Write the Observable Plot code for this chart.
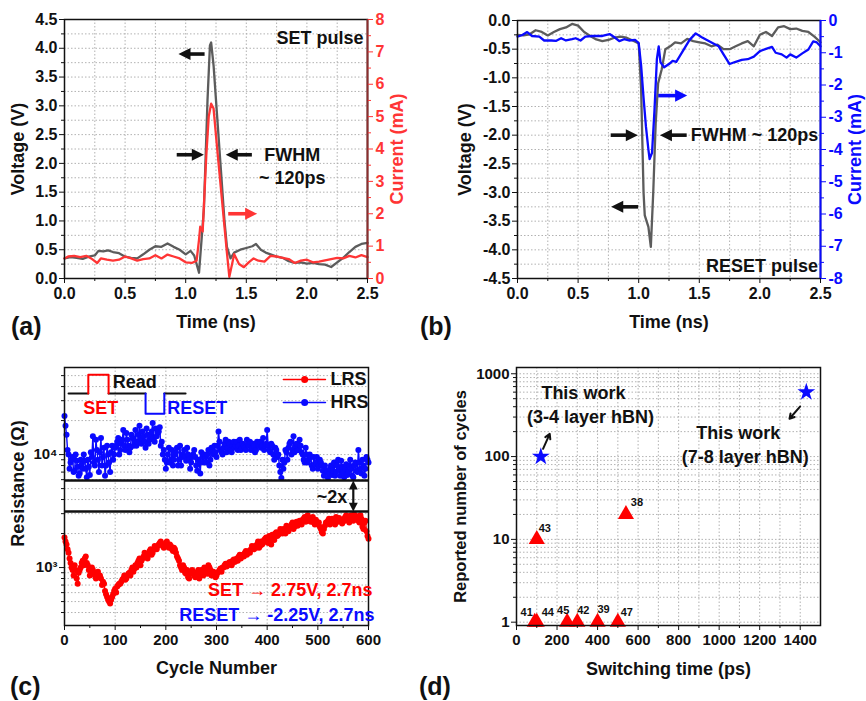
<!DOCTYPE html>
<html><head><meta charset="utf-8">
<script src="https://cdn.jsdelivr.net/npm/d3@7"></script>
<script src="https://cdn.jsdelivr.net/npm/@observablehq/plot@0.6"></script>
<style>
body{margin:0;background:#fff;}
#fig{position:relative;width:866px;height:701px;overflow:hidden;background:#fff;font-family:Arial,'Liberation Sans',Helvetica,sans-serif;}
#fig svg{position:absolute;overflow:visible;}
.lab{position:absolute;font-weight:bold;font-size:25px;line-height:25px;color:#111;}
</style></head><body><div id="fig"></div>
<script>
// ---------------- DATA ----------------
// (a) SET pulse: [time ns, voltage V] and [time ns, current mA]
const setVoltage = [[0,0.35],[0.05,0.37],[0.1,0.36],[0.15,0.34],[0.2,0.38],[0.25,0.40],[0.28,0.48],[0.32,0.47],[0.36,0.49],[0.4,0.46],[0.45,0.44],[0.5,0.38],[0.55,0.36],[0.6,0.35],[0.65,0.42],[0.7,0.50],[0.75,0.56],[0.8,0.55],[0.85,0.61],[0.9,0.55],[0.95,0.50],[1.0,0.42],[1.04,0.48],[1.07,0.40],[1.11,0.10],[1.15,1.20],[1.18,3.10],[1.2,4.05],[1.21,4.10],[1.23,3.70],[1.26,2.80],[1.29,1.90],[1.32,1.00],[1.34,0.55],[1.37,0.35],[1.4,0.45],[1.45,0.50],[1.5,0.53],[1.55,0.56],[1.58,0.60],[1.62,0.50],[1.66,0.45],[1.7,0.42],[1.75,0.38],[1.8,0.36],[1.85,0.30],[1.9,0.27],[1.95,0.28],[2.0,0.26],[2.05,0.27],[2.1,0.25],[2.15,0.24],[2.2,0.20],[2.25,0.28],[2.3,0.36],[2.35,0.46],[2.4,0.55],[2.45,0.60],[2.5,0.62]];
const setCurrent = [[0,0.62],[0.03,0.68],[0.08,0.70],[0.13,0.66],[0.18,0.70],[0.22,0.62],[0.27,0.48],[0.30,0.62],[0.35,0.58],[0.40,0.55],[0.45,0.58],[0.50,0.68],[0.55,0.62],[0.60,0.55],[0.65,0.60],[0.70,0.62],[0.75,0.72],[0.80,0.62],[0.85,0.74],[0.90,0.68],[0.95,0.62],[1.00,0.50],[1.05,0.48],[1.09,0.55],[1.11,1.20],[1.12,1.60],[1.14,1.45],[1.17,3.80],[1.19,5.00],[1.21,5.40],[1.23,5.25],[1.26,4.00],[1.29,2.80],[1.32,1.60],[1.34,0.80],[1.36,0.05],[1.40,0.75],[1.44,0.45],[1.48,0.35],[1.52,0.50],[1.56,0.62],[1.60,0.55],[1.65,0.52],[1.70,0.70],[1.75,0.68],[1.80,0.64],[1.85,0.60],[1.90,0.48],[1.95,0.55],[2.00,0.58],[2.05,0.50],[2.10,0.52],[2.15,0.56],[2.20,0.60],[2.25,0.64],[2.30,0.62],[2.35,0.70],[2.40,0.65],[2.45,0.72],[2.50,0.66]];
// (b) RESET pulse
const resetVoltage = [[0,-0.25],[0.05,-0.26],[0.1,-0.24],[0.15,-0.17],[0.2,-0.20],[0.25,-0.26],[0.3,-0.20],[0.35,-0.15],[0.4,-0.12],[0.45,-0.06],[0.5,-0.09],[0.55,-0.20],[0.6,-0.27],[0.65,-0.33],[0.7,-0.36],[0.75,-0.34],[0.8,-0.30],[0.85,-0.28],[0.9,-0.30],[0.95,-0.35],[1.0,-0.40],[1.02,-1.20],[1.04,-3.00],[1.05,-3.40],[1.08,-3.60],[1.10,-3.95],[1.12,-3.00],[1.14,-1.80],[1.16,-1.10],[1.19,-0.85],[1.22,-0.50],[1.26,-0.45],[1.3,-0.38],[1.35,-0.40],[1.4,-0.32],[1.45,-0.36],[1.5,-0.38],[1.55,-0.40],[1.6,-0.45],[1.65,-0.42],[1.7,-0.50],[1.75,-0.50],[1.8,-0.45],[1.85,-0.40],[1.9,-0.36],[1.95,-0.45],[2.0,-0.25],[2.05,-0.20],[2.1,-0.27],[2.15,-0.12],[2.2,-0.10],[2.25,-0.15],[2.3,-0.14],[2.35,-0.18],[2.4,-0.20],[2.45,-0.28],[2.5,-0.38]];
const resetCurrent = [[0,-0.50],[0.04,-0.45],[0.08,-0.36],[0.12,-0.48],[0.18,-0.50],[0.22,-0.62],[0.28,-0.62],[0.32,-0.63],[0.36,-0.55],[0.40,-0.62],[0.45,-0.58],[0.48,-0.55],[0.52,-0.62],[0.56,-0.50],[0.62,-0.48],[0.70,-0.48],[0.76,-0.42],[0.80,-0.52],[0.84,-0.64],[0.88,-0.58],[0.92,-0.62],[0.97,-0.60],[1.00,-0.70],[1.02,-1.40],[1.04,-2.40],[1.06,-3.30],[1.08,-4.00],[1.09,-4.30],[1.11,-4.10],[1.13,-2.80],[1.15,-1.20],[1.165,-0.80],[1.18,-1.30],[1.21,-1.45],[1.25,-1.35],[1.28,-1.25],[1.31,-1.28],[1.34,-1.10],[1.38,-0.85],[1.42,-0.60],[1.47,-0.40],[1.52,-0.52],[1.57,-0.62],[1.62,-0.72],[1.66,-0.80],[1.70,-1.05],[1.75,-1.35],[1.80,-1.28],[1.85,-1.22],[1.90,-1.20],[1.95,-1.12],[2.00,-0.95],[2.05,-0.88],[2.10,-0.82],[2.13,-1.00],[2.18,-1.05],[2.22,-1.15],[2.25,-1.05],[2.30,-1.15],[2.35,-1.02],[2.40,-0.90],[2.44,-0.65],[2.47,-0.68],[2.50,-0.80]];
// (c) resistance (kOhm): first arrays at cycles 0,4,8,...,600; second arrays at cycles 2,6,...,598
const hrsK = [22,15,10,8.5,9.5,7.2,8.8,6.5,9,7.5,8.8,
 6.3,7.8,10.5,14.5,8,11,7,14,9.5,6.5,12,8.5,
 10.5,9,11.5,13,10,12.5,16.5,11,13.5,10.5,15,12,16.5,13,18,12.5,14.5,11.5,15,13.5,16,14,17,15.5,17.5,13,11,
 7.5,10,8.5,11,9,10.5,8,12,9.5,11,8.8,10,7.5,9.5,11,8,9,6.8,9.5,10,8.5,11,9,10.5,
 12,9.5,16,11,10,12.5,10.5,13,11,12,11.5,13,12,11,12.5,11.5,13.5,12,11,12.5,10.5,13,12,11.5,14,12,16.5,11,12.5,10,11.5,9.5,
 8,6.2,7.5,11,9,12.5,10,14.5,12,11,13.5,10.5,9,11.5,8.5,10,8,9.5,8.5,7.5,9,8,6.5,7.2,
 6.2,7.5,6.6,8.5,7,9,6.5,7.8,6.3,8.2,7,9,6.5,8,7.2,11,7.5,9,6.5,9.5,8.5];
const hrsK2 = [18,11,7.5,9,7,10,7.8,6.8,8.2,10,
 7.5,9,6.6,9.5,8.5,13.5,9,10.5,8,11.5,8,10,
 7,12,10,12,14,11,13.5,12,15.5,12,11.5,14,13,12,15,14,16,13,17,12.5,14.5,19,13,14.5,16,12,10,
 9,8.5,11.5,9,8,10,11.5,9,8,10,9.5,11.5,9,8.5,10,9.5,7.2,8.5,10.5,8.5,9.5,10,8,11.5,
 10,10.5,12,13,10.5,11.5,13.5,11.5,12.5,10.5,13,12,11,13.5,11.5,12,11,12.5,13,11.5,12,11,12.5,13,12,11,12.5,12,10.5,12,9,11,
 10,7,9,8.5,10.5,11.5,13,11,10.5,12.5,11,12,10,8.5,10,9,9.5,7.5,8.2,9.5,8,8.5,7.2,8,
 7,6.8,8,7.2,6.5,8,7.5,8.8,7,7.5,6.6,8,7.5,6.3,8.5,7,8.5,6.8,8,7.5,9];
const lrsK = [1.85,1.6,1.35,1.1,0.95,1.05,0.8,0.9,1.0,1.15,1.2,
 1.1,0.95,0.9,0.95,0.85,0.9,0.82,0.8,0.75,0.62,0.55,0.5,
 0.52,0.58,0.65,0.68,0.72,0.75,0.8,0.78,0.85,0.9,0.95,0.92,1.05,1.1,1.2,1.15,1.25,1.3,1.2,1.4,1.3,1.45,1.5,1.55,1.65,1.6,1.5,
 1.65,1.55,1.6,1.45,1.5,1.35,1.2,1.05,0.95,1.0,0.88,0.82,0.9,0.95,0.85,0.9,0.95,0.88,0.92,1.0,0.9,1.05,0.95,0.9,
 0.88,0.85,0.92,0.98,1.0,1.05,1.02,1.1,1.08,1.15,1.12,1.2,1.25,1.2,1.3,1.35,1.3,1.4,1.45,1.5,1.55,1.6,1.5,1.7,1.65,1.8,1.75,1.9,1.6,1.85,2.0,1.9,
 2.05,2.1,2.2,2.0,2.3,2.25,2.4,2.2,2.45,2.35,2.6,2.4,2.7,2.55,2.9,2.6,2.75,2.5,2.65,2.4,2.3,2.05,2.2,2.5,
 2.6,2.4,2.7,2.5,2.8,2.55,2.65,2.45,2.7,2.9,2.6,2.85,2.7,2.95,2.75,2.6,2.9,2.3,2.5,2.1,1.8];
const lrsK2 = [1.7,1.45,1.2,1.0,0.85,0.95,0.72,0.95,1.1,1.05,
 1.25,1.05,0.85,1.0,0.9,0.8,0.92,0.85,0.7,0.72,0.58,0.52,
 0.48,0.55,0.62,0.6,0.7,0.72,0.78,0.85,0.8,0.88,0.85,1.0,0.98,1.0,1.15,1.05,1.2,1.35,1.25,1.3,1.45,1.35,1.55,1.45,1.6,1.7,1.55,
 1.6,1.7,1.5,1.55,1.4,1.45,1.25,1.15,1.0,1.05,0.9,0.95,0.8,0.88,0.92,0.82,0.88,0.8,0.95,0.85,0.95,0.88,1.0,0.85,
 0.92,0.82,0.9,0.95,0.92,1.0,1.08,1.05,1.12,1.05,1.18,1.15,1.15,1.3,1.25,1.25,1.4,1.35,1.35,1.55,1.45,1.5,1.7,1.55,1.6,1.75,1.85,1.65,1.8,1.95,1.75,2.05,
 1.95,2.2,2.0,2.15,2.35,2.1,2.3,2.5,2.3,2.55,2.45,2.5,2.65,2.8,2.6,2.75,2.55,2.8,2.4,2.55,2.5,2.2,2.0,2.35,
 2.45,2.7,2.5,2.6,2.4,2.65,2.75,2.6,2.55,2.8,2.75,2.5,2.9,2.6,2.8,2.85,2.5,2.7,2.2,2.6,1.9];
// (d) switching time vs reported cycles
const refTime = [90,100,250,300,400,500,100,540];
const refCycles = [1,1,1,1,1,1,10,20];
const refLabels = ["41","44","45","42","39","47","43","38"];
const workTime = [120,1430];
const workCycles = [100,600];

// ---------------- STYLE ----------------
const FONT = "Arial, 'Liberation Sans', Helvetica, sans-serif";
const fig = document.getElementById("fig");
const grid = {stroke:"#a9a9a9", strokeOpacity:1, strokeWidth:0.9, strokeDasharray:"1.5,2"};
const base = {fontFamily:FONT, fontWeight:"bold", fontSize:"16px", background:"transparent", overflow:"visible", color:"#111"};
const GRAY = "#5c5c5c", RED = "#ff3535", BLUE = "#0a0aff", PRED = "#ff0000";
function tri(dir){ // filled arrow head, tip at origin
  return {draw(c, s){ const k = Math.sqrt(s); const w = k*0.5;
    if(dir==="r"){c.moveTo(0,0);c.lineTo(-k,-w);c.lineTo(-k,w);}
    if(dir==="l"){c.moveTo(0,0);c.lineTo(k,-w);c.lineTo(k,w);}
    if(dir==="u"){c.moveTo(0,0);c.lineTo(-w,k);c.lineTo(w,k);}
    if(dir==="d"){c.moveTo(0,0);c.lineTo(-w,-k);c.lineTo(w,-k);}
    c.closePath(); }};
}
function hArrow(tail, tip, y, color, short){
  const end = tip - Math.sign(tip - tail)*short;
  return [
    Plot.ruleY([{y, x1:tail, x2:end}], {y:"y", x1:"x1", x2:"x2", stroke:color, strokeWidth:3.6}),
    Plot.dot([{x:tip, y}], {x:"x", y:"y", symbol: tip > tail ? tri("r") : tri("l"), r:6.8, fill:color, stroke:"none"})
  ];
}
function note(x, y, t, opts={}){
  return Plot.text([{x, y, t}], {x:"x", y:"y", text:"t", fontSize:18, fontWeight:"bold", fill:"#111", ...opts});
}
function ftext(t, anchor, opts={}){
  return Plot.text([t], {frameAnchor:anchor, text:d=>d, fontSize:18, fontWeight:"bold", fill:"#111", textAnchor:"middle", lineAnchor:"middle", ...opts});
}
function place(svg, left, top){ svg.style.left = left+"px"; svg.style.top = top+"px"; fig.appendChild(svg); }
function letter(t, left, top){ const d=document.createElement("div"); d.className="lab"; d.textContent=t; d.style.left=left+"px"; d.style.top=top+"px"; fig.appendChild(d); }

const timeTicks = [0,0.5,1,1.5,2,2.5];
const timeMinor = [0.25,0.75,1.25,1.75,2.25];
const timeGrid = [0.25,0.5,0.75,1,1.25,1.5,1.75,2,2.25];
const mAticks = [0,1,2,3,4,5,6,7,8];
const mAminor = [0.5,1.5,2.5,3.5,4.5,5.5,6.5,7.5];

// ---------------- (a) ----------------
const kA = 4.5/8;
const vA = [0,0.5,1,1.5,2,2.5,3,3.5,4,4.5];
const vAminor = [0.25,0.75,1.25,1.75,2.25,2.75,3.25,3.75,4.25];
const A = Plot.plot({
  width:433, height:340, marginLeft:64, marginRight:66, marginTop:19, marginBottom:62,
  style: base,
  x:{domain:[0,2.5], label:null}, y:{domain:[0,4.5], label:null},
  marks:[
    Plot.gridX(timeGrid, grid),
    Plot.gridY(vAminor.concat(vA.slice(1,-1)), grid),
    Plot.line(setVoltage, {x:d=>d[0], y:d=>d[1], stroke:GRAY, strokeWidth:2.3, strokeLinejoin:"round"}),
    Plot.line(setCurrent, {x:d=>d[0], y:d=>d[1]*kA, stroke:RED, strokeWidth:2.3, strokeLinejoin:"round"}),
    Plot.frame({stroke:"#111", strokeWidth:1.5}),
    Plot.ruleX([2.5], {stroke:"#8b2e2e", strokeWidth:2}),
    Plot.axisX(timeTicks, {tickSize:5, tickPadding:4, tickFormat:d=>d.toFixed(1), fontSize:16, label:null}),
    Plot.axisX(timeMinor, {tickSize:3, tickFormat:()=>"", label:null}),
    Plot.axisY(vA, {tickSize:5, tickPadding:2, tickFormat:d=>d.toFixed(1), fontSize:16, label:null}),
    Plot.axisY(vAminor, {tickSize:3, tickFormat:()=>"", label:null}),
    Plot.axisY(mAticks.map(c=>c*kA), {anchor:"right", tickSize:5, tickPadding:3, tickFormat:v=>String(Math.round(v/kA)), color:RED, fontSize:16, label:null}),
    Plot.axisY(mAminor.map(c=>c*kA), {anchor:"right", tickSize:3, tickFormat:()=>"", color:RED, label:null}),
    ftext("Voltage (V)", "left", {rotate:-90, dx:-46}),
    ftext("Current (mA)", "right", {rotate:-90, dx:30, fill:RED}),
    ftext("Time (ns)", "bottom", {dy:44}),
    ...hArrow(1.16, 0.94, 3.90, "#111", 0.06),
    ...hArrow(0.93, 1.15, 2.15, "#111", 0.06),
    ...hArrow(1.55, 1.33, 2.15, "#111", 0.06),
    ...hArrow(1.355, 1.59, 2.0*kA, RED, 0.06),
    note(2.467, 4.18, "SET pulse", {textAnchor:"end"}),
    note(1.88, 2.14, "FWHM"),
    note(1.88, 1.74, "~ 120ps")
  ]
});
place(A, 0, 0);

// ---------------- (b) ----------------
const vB = [0,-0.5,-1,-1.5,-2,-2.5,-3,-3.5,-4,-4.5];
const vBminor = [-0.25,-0.75,-1.25,-1.75,-2.25,-2.75,-3.25,-3.75,-4.25];
const B = Plot.plot({
  width:433, height:340, marginLeft:84, marginRight:46, marginTop:20, marginBottom:62,
  style: base,
  x:{domain:[0,2.5], label:null}, y:{domain:[-4.5,0], label:null},
  marks:[
    Plot.gridX(timeGrid, grid),
    Plot.gridY(vBminor.concat(vB.slice(1,-1)), grid),
    Plot.line(resetVoltage, {x:d=>d[0], y:d=>d[1], stroke:GRAY, strokeWidth:2.3, strokeLinejoin:"round"}),
    Plot.line(resetCurrent, {x:d=>d[0], y:d=>d[1]*kA, stroke:BLUE, strokeWidth:2.3, strokeLinejoin:"round"}),
    Plot.frame({stroke:"#111", strokeWidth:1.5}),
    Plot.ruleX([2.5], {stroke:BLUE, strokeWidth:2}),
    Plot.axisX(timeTicks, {tickSize:5, tickPadding:4, tickFormat:d=>d.toFixed(1), fontSize:16, label:null}),
    Plot.axisX(timeMinor, {tickSize:3, tickFormat:()=>"", label:null}),
    Plot.axisY(vB, {tickSize:5, tickPadding:2, tickFormat:d=>d.toFixed(1), fontSize:16, label:null}),
    Plot.axisY(vBminor, {tickSize:3, tickFormat:()=>"", label:null}),
    Plot.axisY(mAticks.map(c=>-c*kA), {anchor:"right", tickSize:5, tickPadding:3, tickFormat:v=>String(Math.round(v/kA)), color:BLUE, fontSize:16, label:null}),
    Plot.axisY(mAminor.map(c=>-c*kA), {anchor:"right", tickSize:3, tickFormat:()=>"", color:BLUE, label:null}),
    ftext("Voltage (V)", "left", {rotate:-90, dx:-52}),
    ftext("Current (mA)", "right", {rotate:-90, dx:35, fill:BLUE}),
    ftext("Time (ns)", "bottom", {dy:44}),
    ...hArrow(1.165, 1.40, -1.31, BLUE, 0.06),
    ...hArrow(0.773, 0.993, -2.0, "#111", 0.06),
    ...hArrow(1.40, 1.175, -2.0, "#111", 0.06),
    ...hArrow(1.00, 0.773, -3.25, "#111", 0.06),
    note(1.43, -2.0, "FWHM ~ 120ps", {textAnchor:"start"}),
    note(2.48, -4.28, "RESET pulse", {textAnchor:"end"})
  ]
});
place(B, 433, 0);

// ---------------- (c) ----------------
const toPts = (a, off) => a.map((v,i)=>({c:i*4+off, r:v*1000}));
const hrs = toPts(hrsK,0).concat(toPts(hrsK2,2)).sort((p,q)=>p.c-q.c);
const lrs = toPts(lrsK,0).concat(toPts(lrsK2,2)).sort((p,q)=>p.c-q.c);
const cMajor = [1000,10000];
const cMinor = [400,500,600,700,800,900,2000,3000,4000,5000,6000,7000,8000,9000,20000,30000,40000,50000];
const breakLow = 3130, breakHigh = 5890;
const schemBase = 34700, schemHigh = 51000, schemLow = 23000;
const schemBlack = [[[8,schemBase],[47,schemBase]],[[87,schemBase],[160,schemBase]],[[197,schemBase],[239,schemBase]]];
const schemSet = [[47,schemBase],[47,schemHigh],[87,schemHigh],[87,schemBase]];
const schemReset = [[160,schemBase],[160,schemLow],[197,schemLow],[197,schemBase]];
const C = Plot.plot({
  width:433, height:361, marginLeft:64, marginRight:65, marginTop:27, marginBottom:76,
  style: base,
  x:{domain:[0,600], label:null}, y:{type:"log", domain:[307,59000], label:null},
  marks:[
    Plot.gridX([100,200,300,400,500], grid),
    Plot.gridY(cMinor.concat(cMajor), grid),
    Plot.line(hrs, {x:"c", y:"r", stroke:BLUE, strokeWidth:1.4}),
    Plot.dot(hrs, {x:"c", y:"r", r:3, fill:BLUE, stroke:"none"}),
    Plot.line(lrs, {x:"c", y:"r", stroke:PRED, strokeWidth:1.4}),
    Plot.dot(lrs, {x:"c", y:"r", r:3, fill:PRED, stroke:"none"}),
    Plot.ruleY([breakLow, breakHigh], {stroke:"#111", strokeWidth:2.5}),
    Plot.frame({stroke:"#111", strokeWidth:1.5}),
    Plot.axisX([0,100,200,300,400,500,600], {tickSize:5, tickPadding:4, fontSize:15, label:null}),
    Plot.axisX([50,150,250,350,450,550], {tickSize:3, tickFormat:()=>"", label:null}),
    Plot.axisY(cMajor, {tickSize:5, tickPadding:2, fontSize:15, tickFormat:d=> d===1000 ? "10³" : "10⁴", label:null}),
    Plot.axisY(cMinor, {tickSize:3, tickFormat:()=>"", label:null}),
    ftext("Resistance (Ω)", "left", {rotate:-90, dx:-46, dy:-13}),
    ftext("Cycle Number", "bottom", {dy:43}),
    // pulse schematic
    ...schemBlack.map(seg => Plot.line(seg, {x:d=>d[0], y:d=>d[1], stroke:"#111", strokeWidth:2})),
    Plot.line(schemSet, {x:d=>d[0], y:d=>d[1], stroke:PRED, strokeWidth:2}),
    Plot.line(schemReset, {x:d=>d[0], y:d=>d[1], stroke:BLUE, strokeWidth:2}),
    note(95, 43400, "Read", {textAnchor:"start"}),
    note(37, 25500, "SET", {textAnchor:"start", fill:PRED}),
    note(203, 25500, "RESET", {textAnchor:"start", fill:BLUE}),
    // legend
    Plot.line([[432,46100],[515,46100]], {x:d=>d[0], y:d=>d[1], stroke:PRED, strokeWidth:1.5}),
    Plot.dot([[474,46100]], {x:d=>d[0], y:d=>d[1], r:3.5, fill:PRED}),
    note(525, 46100, "LRS", {textAnchor:"start"}),
    Plot.line([[432,28900],[515,28900]], {x:d=>d[0], y:d=>d[1], stroke:BLUE, strokeWidth:1.5}),
    Plot.dot([[474,28900]], {x:d=>d[0], y:d=>d[1], r:3.5, fill:BLUE}),
    note(525, 28900, "HRS", {textAnchor:"start"}),
    // break annotation
    Plot.ruleX([{x:570, y1:breakLow*1.16, y2:breakHigh/1.16}], {x:"x", y1:"y1", y2:"y2", stroke:"#111", strokeWidth:2.2}),
    Plot.dot([{x:570, y:breakHigh}], {x:"x", y:"y", symbol:tri("u"), r:5, fill:"#111"}),
    Plot.dot([{x:570, y:breakLow}], {x:"x", y:"y", symbol:tri("d"), r:5, fill:"#111"}),
    note(558, 4170, "~2x", {textAnchor:"end"}),
    note(608, 625, "SET → 2.75V, 2.7ns", {textAnchor:"end", fill:PRED}),
    note(612, 376, "RESET → -2.25V, 2.7ns", {textAnchor:"end", fill:BLUE})
  ]
});
place(C, 0, 340);

// ---------------- (d) ----------------
const refs = refTime.map((t,i)=>({t, n:refCycles[i], lab:refLabels[i]}));
const works = workTime.map((t,i)=>({t, n:workCycles[i]}));
const dMajor = [1,10,100,1000];
const dMinor = [2,3,4,5,6,7,8,9,20,30,40,50,60,70,80,90,200,300,400,500,600,700,800,900];
const labelOffset = {"41":[-8,-10],"44":[11,-10],"45":[-4,-12],"42":[6,-12],"39":[6,-13],"47":[9,-10],"43":[8,-11],"38":[11,-12]};
const D = Plot.plot({
  width:433, height:361, marginLeft:83, marginRight:46, marginTop:27, marginBottom:76,
  style: base,
  x:{domain:[0,1500], label:null}, y:{type:"log", domain:[0.912,1190], label:null},
  marks:[
    Plot.gridX([100,200,300,400,500,600,700,800,900,1000,1100,1200,1300,1400], grid),
    Plot.gridY(dMinor.concat(dMajor), grid),
    Plot.dot(refs, {x:"t", y:"n", symbol:"triangle", r:6, fill:PRED, stroke:"none"}),
    Plot.dot(works, {x:"t", y:"n", symbol:"star", r:5.6, fill:BLUE, stroke:"none"}),
    ...refs.map(d => Plot.text([d], {x:"t", y:"n", text:"lab", dx:labelOffset[d.lab][0], dy:labelOffset[d.lab][1], fontSize:11, fontWeight:"bold", fill:"#111"})),
    Plot.frame({stroke:"#111", strokeWidth:1.5}),
    Plot.axisX([0,200,400,600,800,1000,1200,1400], {tickSize:5, tickPadding:4, fontSize:15, tickFormat:d=>String(d), label:null}),
    Plot.axisX([100,300,500,700,900,1100,1300], {tickSize:3, tickFormat:()=>"", label:null}),
    Plot.axisY(dMajor, {tickSize:5, tickPadding:2, fontSize:15, tickFormat:d=>String(d), label:null}),
    Plot.axisY(dMinor, {tickSize:3, tickFormat:()=>"", label:null}),
    ftext("Reported number of cycles", "left", {rotate:-90, dx:-56, fontSize:16.5}),
    ftext("Switching time (ps)", "bottom", {dy:44}),
    note(330, 578, "This work"),
    note(365, 297, "(3-4 layer hBN)"),
    note(1094, 190, "This work"),
    note(1129, 97.5, "(7-8 layer hBN)"),
    Plot.arrow([{x1:131, y1:124, x2:164, y2:188}], {x1:"x1", y1:"y1", x2:"x2", y2:"y2", stroke:"#111", strokeWidth:2, headLength:6}),
    Plot.arrow([{x1:1400, y1:403, x2:1347, y2:286}], {x1:"x1", y1:"y1", x2:"x2", y2:"y2", stroke:"#111", strokeWidth:2, headLength:6})
  ]
});
place(D, 433, 340);

letter("(a)", 11, 314);
letter("(b)", 420, 314);
letter("(c)", 10, 674);
letter("(d)", 419, 674);
</script></body></html>
